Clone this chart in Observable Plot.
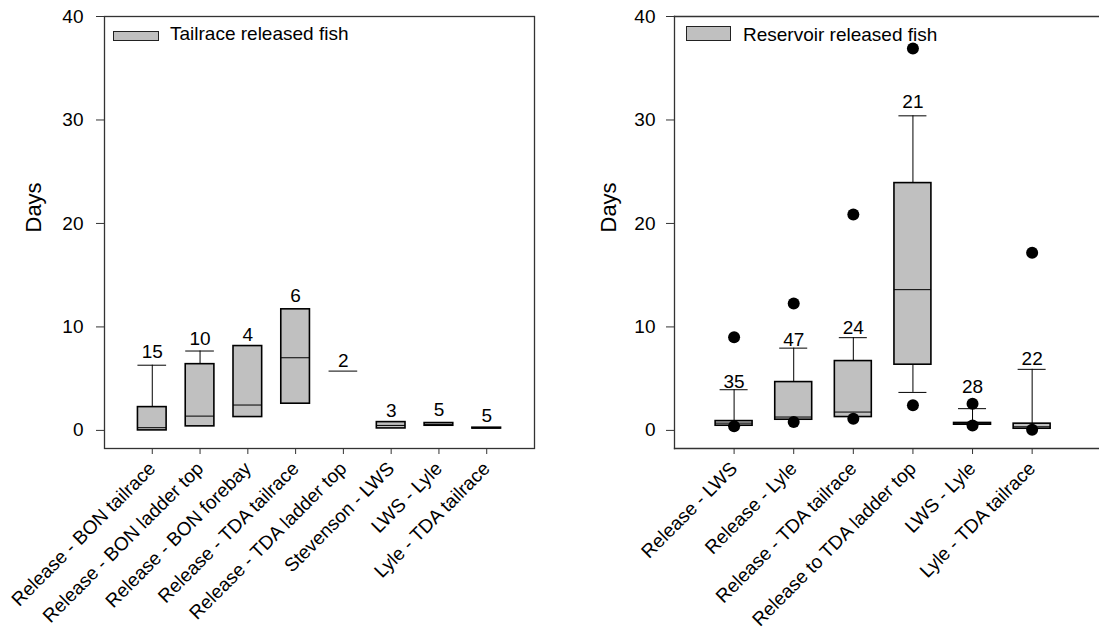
<!DOCTYPE html>
<html><head><meta charset="utf-8">
<script src="https://cdn.jsdelivr.net/npm/d3@7"></script>
<script src="https://cdn.jsdelivr.net/npm/@observablehq/plot@0.6"></script>
<style>
body{margin:0;background:#fff;}
#wrap{position:relative;width:1099px;height:633px;overflow:hidden;font-family:"Liberation Sans",Arial,sans-serif;}
.panel{position:absolute;top:0;}
.legbox{position:absolute;background:#c0c0c0;border:1px solid #222;box-sizing:border-box;}
.legtxt{position:absolute;font-size:19px;line-height:19px;white-space:nowrap;color:#000;}
</style></head><body><div id="wrap"></div>
<script>
// ---- Left panel: tailrace released fish ----
const leftCategories = ["Release - BON tailrace","Release - BON ladder top","Release - BON forebay","Release - TDA tailrace","Release - TDA ladder top","Stevenson - LWS","LWS - Lyle","Lyle - TDA tailrace"];
const leftN      = [15, 10, 4, 6, 2, 3, 5, 5];
const leftQ1     = [0.0, 0.39, 1.29, 2.58, null, 0.19, 0.45, 0.18];
const leftMedian = [0.26, 1.38, 2.45, 7.02, 5.73, 0.48, 0.58, 0.22];
const leftQ3     = [2.25, 6.4, 8.15, 11.7, null, 0.8, 0.71, 0.26];
const leftWhiskerHi = [6.3, 7.67, null, null, null, null, null, null];
const leftWhiskerLo = [null, null, null, null, null, null, null, null];
const leftLabelY = [6.96, 8.3, 8.63, 12.4, 6.1, 1.29, 1.38, 0.8];
const leftOutlierCat = [];
const leftOutlierVal = [];

// ---- Right panel: reservoir released fish ----
const rightCategories = ["Release - LWS","Release - Lyle","Release - TDA tailrace","Release to TDA ladder top","LWS - Lyle","Lyle - TDA tailrace"];
const rightN      = [35, 47, 24, 21, 28, 22];
const rightQ1     = [0.45, 1.03, 1.29, 6.35, 0.55, 0.16];
const rightMedian = [0.7, 1.29, 1.77, 13.6, 0.62, 0.35];
const rightQ3     = [0.9, 4.67, 6.7, 23.9, 0.72, 0.65];
const rightWhiskerHi = [3.93, 7.95, 8.96, 30.4, 2.1, 5.9];
const rightWhiskerLo = [null, null, null, 3.67, null, null];
const rightLabelY = [4.06, 8.2, 9.34, 31.2, 3.6, 6.28];
const rightOutlierCat = [1, 1, 2, 2, 3, 3, 4, 4, 5, 5, 6, 6];
const rightOutlierVal = [9.0, 0.39, 12.27, 0.8, 20.87, 1.13, 36.9, 2.42, 2.58, 0.48, 17.17, 0.07];

const yTicks = [0, 10, 20, 30, 40];

function panel(o) {
  const rows = o.cats.map((c, k) => ({
    i: k + 1, n: o.n[k], q1: o.q1[k], med: o.med[k], q3: o.q3[k],
    hi: o.hi[k], lo: o.lo[k], labelY: o.labelY[k]
  }));
  const outs = o.outCat.map((c, k) => ({i: c, v: o.outVal[k]}));
  const bh = o.boxHalf, ch = o.capHalf;
  const ax = "#333";
  const frames = o.fullFrame
    ? [Plot.frame({stroke: ax, strokeWidth: 1.3})]
    : [Plot.frame({anchor: "left", stroke: ax, strokeWidth: 1.3}),
       Plot.frame({anchor: "top", stroke: ax, strokeWidth: 1.3}),
       Plot.frame({anchor: "bottom", stroke: ax, strokeWidth: 1.3})];
  return Plot.plot({
    width: o.width, height: 633,
    marginLeft: o.marginLeft, marginRight: o.marginRight, marginTop: 16, marginBottom: 185,
    style: {fontFamily: "'Liberation Sans', Arial, sans-serif", fontSize: "19px", color: "#000", background: "transparent"},
    x: {domain: [0, o.xMax]},
    y: {domain: [-1.75, 40]},
    marks: [
      ...frames,
      Plot.axisY({ticks: yTicks, tickSize: 8, tickPadding: o.yPad, label: null, stroke: ax}),
      Plot.axisX({ticks: d3.range(1, o.cats.length + 1), tickFormat: i => o.cats[i - 1], tickRotate: -45, tickSize: 6, tickPadding: 11, label: null, stroke: ax}),
      Plot.ruleX(rows.filter(d => d.hi != null), {x: "i", y1: "q3", y2: "hi", stroke: "#000", strokeWidth: 1}),
      Plot.ruleX(rows.filter(d => d.lo != null), {x: "i", y1: "lo", y2: "q1", stroke: "#000", strokeWidth: 1}),
      Plot.ruleY(rows.filter(d => d.hi != null), {y: "hi", x1: d => d.i - ch, x2: d => d.i + ch, stroke: "#000", strokeWidth: 1}),
      Plot.ruleY(rows.filter(d => d.lo != null), {y: "lo", x1: d => d.i - ch, x2: d => d.i + ch, stroke: "#000", strokeWidth: 1}),
      Plot.rect(rows.filter(d => d.q1 != null), {x1: d => d.i - bh, x2: d => d.i + bh, y1: "q1", y2: "q3", fill: "#c0c0c0", stroke: "#000", strokeWidth: 1.6}),
      Plot.ruleY(rows.filter(d => d.med != null), {y: "med", x1: d => d.i - bh, x2: d => d.i + bh, stroke: "#000", strokeWidth: 1}),
      Plot.dot(outs, {x: "i", y: "v", r: 6, fill: "#000", stroke: "none"}),
      Plot.text(rows, {x: "i", y: "labelY", text: d => String(d.n), lineAnchor: "bottom", fontSize: 19, fill: "#000"}),
      Plot.text(["Days"], {frameAnchor: "left", rotate: -90, dx: o.daysDx, fontSize: 22, fill: "#000"})
    ]
  });
}

const wrap = document.getElementById("wrap");

const left = panel({
  cats: leftCategories, n: leftN, q1: leftQ1, med: leftMedian, q3: leftQ3,
  hi: leftWhiskerHi, lo: leftWhiskerLo, labelY: leftLabelY,
  outCat: leftOutlierCat, outVal: leftOutlierVal,
  xMax: 9, boxHalf: 0.3, capHalf: 0.3, width: 540, marginLeft: 104, marginRight: 6,
  fullFrame: true, daysDx: -71, yPad: 13
});
left.classList.add("panel");
left.style.left = "0px";
wrap.appendChild(left);

const right = panel({
  cats: rightCategories, n: rightN, q1: rightQ1, med: rightMedian, q3: rightQ3,
  hi: rightWhiskerHi, lo: rightWhiskerLo, labelY: rightLabelY,
  outCat: rightOutlierCat, outVal: rightOutlierVal,
  xMax: 7.13, boxHalf: 0.31, capHalf: 0.235, width: 539, marginLeft: 114, marginRight: 0,
  fullFrame: false, daysDx: -66, yPad: 11
});
right.classList.add("panel");
right.style.left = "560px";
wrap.appendChild(right);

// legends
function legend(x, y, w, h, tx, ty, label) {
  const b = document.createElement("div");
  b.className = "legbox";
  Object.assign(b.style, {left: x + "px", top: y + "px", width: w + "px", height: h + "px"});
  wrap.appendChild(b);
  const t = document.createElement("div");
  t.className = "legtxt";
  t.textContent = label;
  Object.assign(t.style, {left: tx + "px", top: ty + "px"});
  wrap.appendChild(t);
}
legend(113, 31, 46, 10, 170, 24, "Tailrace released fish");
legend(686, 26, 45, 15, 743, 25, "Reservoir released fish");
</script>
</body></html>
